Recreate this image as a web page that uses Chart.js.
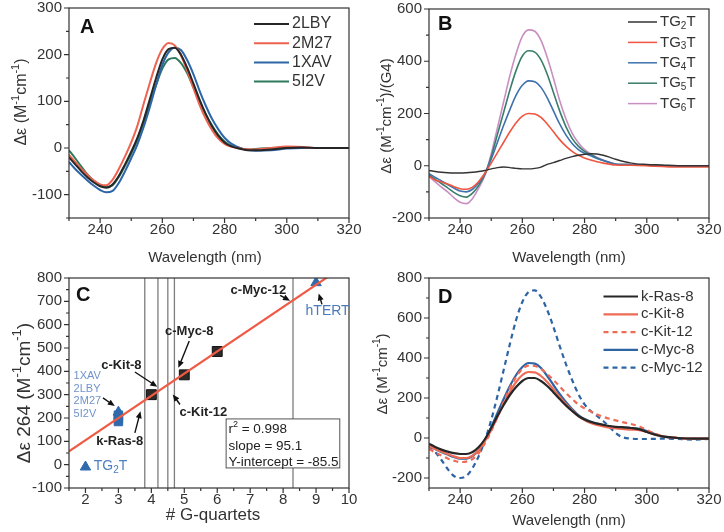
<!DOCTYPE html>
<html>
<head>
<meta charset="utf-8">
<script src="https://cdn.jsdelivr.net/npm/chart.js@4.4.1/dist/chart.umd.min.js"></script>
<style>
  html, body { margin: 0; padding: 0; background: #fff; }
  #wrap { position: relative; width: 724px; height: 532px; }
  #wrap canvas { position: absolute; }
</style>
</head>
<body>
<div id="wrap">
  <canvas id="chartA" width="362" height="266" style="left:0;top:0"></canvas>
  <canvas id="chartB" width="362" height="266" style="left:362px;top:0"></canvas>
  <canvas id="chartC" width="362" height="266" style="left:0;top:266px"></canvas>
  <canvas id="chartD" width="362" height="266" style="left:362px;top:266px"></canvas>
</div>
<script>
// ---------- data: panel A (CD spectra of known G4 structures)
const wlA = [230,232,234,236,238,240,242,244,246,248,250,252,254,256,258,260,262,264,266,268,270,272,274,276,278,280,282,284,286,288,290,295,300,305,310,315,320];
const labelsA = ['2LBY', '2M27', '1XAV', '5I2V'];
const a2LBY = [-20,-35,-50,-63,-74,-82,-85,-78,-60,-35,-8,22,60,105,150,190,212,215,200,172,138,103,72,46,26,12,4,0,-3,-5,-5,-3,0,1,0,0,0];
const a2M27 = [-15,-30,-45,-58,-70,-78,-80,-68,-45,-18,12,48,95,140,182,212,225,220,198,165,128,92,62,38,20,9,3,0,-2,-3,-3,0,3,2,0,0,0];
const a1XAV = [-30,-45,-58,-70,-81,-90,-95,-92,-75,-50,-22,8,45,88,135,178,205,215,210,188,158,122,90,62,40,22,10,3,-2,-5,-6,-5,-1,0,0,0,0];
const a5I2V = [-5,-22,-40,-57,-70,-79,-83,-80,-62,-38,-12,18,55,95,135,170,190,193,182,160,130,100,72,48,28,14,5,1,-2,-3,-2,0,1,0,0,0,0];

// ---------- data: panel B (TGnT per G4)
const wlB = wlA;
const labelsB = ['TG_{2}T', 'TG_{3}T', 'TG_{4}T', 'TG_{5}T', 'TG_{6}T'];
const bTG2T = [-18,-22,-25,-27,-28,-28,-27,-25,-22,-18,-12,-7,-5,-7,-10,-12,-12,-10,-5,5,12,20,28,35,40,44,46,45,40,33,25,10,5,3,0,0,0];
const bTG3T = [-40,-55,-62,-70,-80,-88,-90,-82,-60,-28,10,50,90,130,165,190,200,198,185,160,130,100,75,55,40,30,22,15,10,6,3,2,0,-3,-5,-5,-5];
const bTG4T = [-30,-45,-58,-72,-85,-97,-100,-90,-65,-30,25,90,155,215,270,308,325,322,300,260,210,160,118,85,62,48,38,28,20,12,6,4,2,0,0,0,0];
const bTG5T = [-35,-52,-68,-85,-102,-115,-120,-105,-75,-32,35,120,205,290,365,420,440,435,405,350,280,210,150,105,75,55,42,30,20,12,6,4,2,0,0,0,0];
const bTG6T = [-40,-62,-82,-100,-122,-140,-145,-125,-85,-35,45,145,245,345,430,495,520,515,480,415,335,250,180,125,88,62,45,32,22,14,7,4,2,0,0,0,0];

// ---------- data: panel C (Δε264 vs number of G-quartets)
const xTicksC = [2, 3, 4, 5, 6, 7, 8, 9, 10];
const yTicksC = [-100, 0, 100, 200, 300, 400, 500, 600, 700, 800];
const quartetsC = [4, 5, 6];              // black squares
const deltaC = [300, 385, 485];
const knownX = [3, 3, 3, 3];              // 1XAV, 2LBY, 2M27, 5I2V
const knownY = [225, 212, 198, 185];
const tgX = [2, 9];                       // TG2T, hTERT
const tgY = [-10, 780];
const fitX = [1.5, 10];                   // linear fit
const fitY = [57, 866];
const vLinesC = [3.8, 4.2, 4.5, 4.7, 8.3];

// ---------- data: panel D (k-Ras / c-Kit / c-Myc)
const wlD = [230,232,234,236,238,240,242,244,246,248,250,252,254,256,258,260,262,264,266,268,270,272,274,276,278,280,282,284,286,288,290,292,295,298,300,303,305,310,315,320];
const labelsD = ['k-Ras-8', 'c-Kit-8', 'c-Kit-12', 'c-Myc-8', 'c-Myc-12'];
const dKRas8 = [-28,-45,-58,-68,-76,-80,-80,-70,-45,-5,50,110,165,215,255,285,300,300,285,260,228,195,163,135,110,92,80,72,66,60,56,54,50,42,30,15,8,0,-3,-3];
const dCKit8 = [-40,-55,-68,-80,-92,-100,-100,-88,-60,-15,40,105,170,230,280,315,330,328,310,280,243,205,170,138,110,90,75,65,58,52,48,45,42,38,30,15,8,0,-3,-3];
const dCKit12 = [-55,-72,-88,-102,-113,-120,-118,-105,-75,-25,35,105,180,250,305,345,362,360,345,320,290,258,225,195,168,148,132,118,106,96,88,80,70,55,40,20,10,0,-3,-3];
const dCMyc8 = [-40,-55,-70,-83,-95,-103,-103,-90,-60,-10,55,125,195,260,315,355,375,372,350,310,265,220,180,145,115,95,82,72,64,58,54,52,50,45,35,18,8,0,-3,-3];
const dCMyc12 = [-40,-70,-110,-155,-190,-200,-190,-150,-90,-10,90,210,340,470,590,680,730,738,705,640,555,460,370,290,220,168,135,110,85,55,25,5,-3,-5,-5,-4,-3,-5,-8,-5];

const wlTicks = [240, 260, 280, 300, 320];

// ---------- drawing helpers
const FONT = "'Liberation Sans', Arial, sans-serif";
const INK = '#333333';

function parseRich(s) {
  const parts = [];
  const re = /([_^])\{([^}]*)\}/g;
  let last = 0, m;
  while ((m = re.exec(s))) {
    if (m.index > last) parts.push({ t: s.slice(last, m.index), mode: '' });
    parts.push({ t: m[2], mode: m[1] === '^' ? 'sup' : 'sub' });
    last = re.lastIndex;
  }
  if (last < s.length) parts.push({ t: s.slice(last), mode: '' });
  return parts;
}

function drawRich(ctx, s, x, y, size, opt) {
  opt = opt || {};
  const parts = parseRich(s);
  const w8 = opt.bold ? 'bold ' : '';
  const big = w8 + size + 'px ' + FONT;
  const small = w8 + Math.round(size * 0.68) + 'px ' + FONT;
  let w = 0;
  parts.forEach(p => { ctx.font = p.mode ? small : big; p.w = ctx.measureText(p.t).width; w += p.w; });
  ctx.save();
  ctx.translate(x, y);
  if (opt.rotate) ctx.rotate(opt.rotate);
  ctx.fillStyle = opt.color || INK;
  ctx.textBaseline = opt.baseline || 'middle';
  ctx.textAlign = 'left';
  let cx = opt.align === 'left' ? 0 : -w / 2;
  parts.forEach(p => {
    ctx.font = p.mode ? small : big;
    const dy = p.mode === 'sup' ? -size * 0.38 : p.mode === 'sub' ? size * 0.28 : 0;
    ctx.fillText(p.t, cx, dy);
    cx += p.w;
  });
  ctx.restore();
}

// box around the plot plus major/minor tick marks
const framePlugin = {
  id: 'frame',
  afterDatasetsDraw(chart, args, o) {
    const { ctx, chartArea: a, scales: { x, y } } = chart;
    ctx.save();
    ctx.strokeStyle = INK;
    ctx.lineWidth = 1.2;
    ctx.beginPath();
    const minor = (scale, step, fn) => {
      for (let n = Math.ceil(scale.min / step - 1e-9); n * step <= scale.max + 1e-9; n++) fn(scale.getPixelForValue(n * step));
    };
    minor(x, o.xMinor, p => { ctx.moveTo(p, a.bottom); ctx.lineTo(p, a.bottom + 3); });
    minor(y, o.yMinor, p => { ctx.moveTo(a.left, p); ctx.lineTo(a.left - 3, p); });
    x.ticks.forEach(t => { const p = x.getPixelForValue(t.value); ctx.moveTo(p, a.bottom); ctx.lineTo(p, a.bottom + 5); });
    y.ticks.forEach(t => { const p = y.getPixelForValue(t.value); ctx.moveTo(a.left, p); ctx.lineTo(a.left - 5, p); });
    ctx.stroke();
    ctx.strokeRect(a.left, a.top, a.right - a.left, a.bottom - a.top);
    ctx.restore();
  }
};

// panel letter, axis titles, legend and notes
const decoPlugin = {
  id: 'deco',
  afterDatasetsDraw(chart, args, o) {
    const ctx = chart.ctx;
    const { x, y } = chart.scales;
    if (o.box) {
      const b = o.box;
      const l = x.getPixelForValue(b.x1), r = x.getPixelForValue(b.x2);
      const t = y.getPixelForValue(b.y1), btm = y.getPixelForValue(b.y2);
      ctx.save();
      ctx.fillStyle = '#fff';
      ctx.fillRect(l, t, r - l, btm - t);
      ctx.strokeStyle = '#555';
      ctx.lineWidth = 1;
      ctx.strokeRect(l, t, r - l, btm - t);
      ctx.restore();
      b.lines.forEach(ln => drawRich(ctx, ln.text, x.getPixelForValue(b.tx), y.getPixelForValue(ln.y), 13.5, { align: 'left', color: '#222' }));
    }
    (o.arrows || []).forEach(ar => {
      const x0 = x.getPixelForValue(ar[0]), y0 = y.getPixelForValue(ar[1]);
      const x1 = x.getPixelForValue(ar[2]), y1 = y.getPixelForValue(ar[3]);
      const ang = Math.atan2(y1 - y0, x1 - x0);
      ctx.save();
      ctx.strokeStyle = '#111';
      ctx.fillStyle = '#111';
      ctx.lineWidth = 1.4;
      ctx.beginPath();
      ctx.moveTo(x0, y0);
      ctx.lineTo(x1 - 5 * Math.cos(ang), y1 - 5 * Math.sin(ang));
      ctx.stroke();
      ctx.translate(x1, y1);
      ctx.rotate(ang);
      ctx.beginPath();
      ctx.moveTo(0, 0);
      ctx.lineTo(-7, -3);
      ctx.lineTo(-7, 3);
      ctx.closePath();
      ctx.fill();
      ctx.restore();
    });
    (o.notes || []).forEach(n => {
      drawRich(ctx, n.text, x.getPixelForValue(n.x), y.getPixelForValue(n.y), n.size || 13,
        { bold: n.bold, color: n.color || '#222', align: n.align });
    });
  },
  afterDraw(chart, args, o) {
    const ctx = chart.ctx;
    ctx.save();
    ctx.fillStyle = '#111';
    ctx.font = 'bold 20px ' + FONT;
    ctx.textBaseline = 'alphabetic';
    ctx.fillText(o.letter.text, o.letter.x, o.letter.y);
    ctx.restore();
    drawRich(ctx, o.xTitle.text, o.xTitle.x, o.xTitle.y, o.xTitle.size);
    drawRich(ctx, o.yTitle.text, o.yTitle.x, o.yTitle.y, o.yTitle.size, { rotate: -Math.PI / 2 });
    if (o.legend) {
      const L = o.legend;
      chart.data.datasets.forEach((ds, i) => {
        const yy = L.y0 + i * L.dy;
        ctx.save();
        ctx.strokeStyle = ds.borderColor;
        ctx.lineWidth = L.lw;
        ctx.setLineDash(ds.borderDash || []);
        ctx.beginPath();
        ctx.moveTo(L.x1, yy);
        ctx.lineTo(L.x2, yy);
        ctx.stroke();
        ctx.restore();
        drawRich(ctx, ds.label, L.tx, yy, L.size, { align: 'left' });
      });
    }
  }
};

Chart.register(framePlugin, decoPlugin);

const line = (label, xs, ys, color, width, dash) => ({
  label,
  data: xs.map((v, i) => ({ x: v, y: ys[i] })),
  borderColor: color,
  borderWidth: width,
  borderDash: dash || [],
  pointRadius: 0,
  cubicInterpolationMode: 'monotone',
  fill: false
});

function baseOptions(box, xr, yr, frame, deco) {
  const tickFont = { family: FONT, size: 15 };
  return {
    responsive: false,
    animation: false,
    events: [],
    layout: { padding: { left: 0, right: box.r, top: box.t, bottom: 0 } },
    plugins: { legend: { display: false }, tooltip: { enabled: false }, frame, deco },
    scales: {
      x: {
        type: 'linear', min: xr.min, max: xr.max,
        grid: { display: false, tickLength: 0 }, border: { display: false },
        ticks: { font: tickFont, color: INK, padding: 3, maxRotation: 0, autoSkip: false },
        afterBuildTicks: s => { s.ticks = xr.ticks.map(v => ({ value: v })); },
        afterFit: s => { s.height = box.h; s.paddingLeft = 0; s.paddingRight = 0; }
      },
      y: {
        type: 'linear', min: yr.min, max: yr.max,
        grid: { display: false, tickLength: 0 }, border: { display: false },
        ticks: { font: tickFont, color: INK, padding: 7, autoSkip: false },
        afterBuildTicks: s => { s.ticks = yr.ticks.map(v => ({ value: v })); },
        afterFit: s => { s.width = box.w; s.paddingTop = 0; s.paddingBottom = 0; }
      }
    }
  };
}

// ---------- panel A
new Chart(document.getElementById('chartA'), {
  type: 'line',
  data: {
    datasets: [
      line(labelsA[0], wlA, a2LBY, '#262626', 2),
      line(labelsA[1], wlA, a2M27, '#ee6350', 2),
      line(labelsA[2], wlA, a1XAV, '#2c66a8', 2),
      line(labelsA[3], wlA, a5I2V, '#2f7a5f', 2)
    ]
  },
  options: baseOptions(
    { w: 69, r: 13, t: 8, h: 48 },
    { min: 230, max: 320, ticks: wlTicks },
    { min: -150, max: 300, ticks: [-100, 0, 100, 200, 300] },
    { xMinor: 10, yMinor: 50 },
    {
      letter: { text: 'A', x: 80, y: 33 },
      xTitle: { text: 'Wavelength (nm)', x: 205, y: 258, size: 15 },
      yTitle: { text: 'Δε (M^{-1}cm^{-1})', x: 22, y: 102, size: 16 },
      legend: { x1: 254, x2: 289, tx: 292, y0: 24, dy: 19.2, lw: 2, size: 16 }
    }
  )
});

// ---------- panel B
new Chart(document.getElementById('chartB'), {
  type: 'line',
  data: {
    datasets: [
      line(labelsB[0], wlB, bTG2T, '#333333', 1.4),
      line(labelsB[1], wlB, bTG3T, '#f0553f', 1.6),
      line(labelsB[2], wlB, bTG4T, '#3f72ad', 1.6),
      line(labelsB[3], wlB, bTG5T, '#3a7d6a', 1.6),
      line(labelsB[4], wlB, bTG6T, '#c88fc3', 1.6)
    ]
  },
  options: baseOptions(
    { w: 67, r: 15, t: 9, h: 48 },
    { min: 230, max: 320, ticks: wlTicks },
    { min: -200, max: 600, ticks: [-200, 0, 200, 400, 600] },
    { xMinor: 10, yMinor: 100 },
    {
      letter: { text: 'B', x: 76, y: 30 },
      xTitle: { text: 'Wavelength (nm)', x: 207, y: 258, size: 15 },
      yTitle: { text: 'Δε (M^{-1}cm^{-1})/(G4)', x: 25, y: 116, size: 15 },
      legend: { x1: 266, x2: 295, tx: 298, y0: 22, dy: 20.4, lw: 1.5, size: 15 }
    }
  )
});

// ---------- panel C
const blue = '#2f6aad';
new Chart(document.getElementById('chartC'), {
  type: 'scatter',
  data: {
    datasets: [
      { type: 'line', data: fitX.map((v, i) => ({ x: v, y: fitY[i] })), borderColor: '#ef5a45', borderWidth: 2.2, pointRadius: 0, order: 0 },
      { data: quartetsC.map((v, i) => ({ x: v, y: deltaC[i] })), pointStyle: 'rect', radius: 7, backgroundColor: '#2e2a27', borderColor: '#111', borderWidth: 1, order: 1 },
      { data: knownX.map((v, i) => ({ x: v, y: knownY[i] })), pointStyle: ['triangle', 'rect', 'rect', 'rect'], radius: 6, backgroundColor: blue, borderColor: blue, borderWidth: 1, order: 1 },
      { data: tgX.map((v, i) => ({ x: v, y: tgY[i] })), pointStyle: 'triangle', radius: 6, backgroundColor: blue, borderColor: blue, borderWidth: 1, order: 1 },
      ...vLinesC.map(v => ({ type: 'line', data: [{ x: v, y: -100 }, { x: v, y: 800 }], borderColor: '#7d7d7d', borderWidth: 1.3, pointRadius: 0, order: 2 }))
    ]
  },
  options: baseOptions(
    { w: 69, r: 13, t: 12, h: 44 },
    { min: 1.5, max: 10, ticks: xTicksC },
    { min: -100, max: 800, ticks: yTicksC },
    { xMinor: 0.5, yMinor: 50 },
    {
      letter: { text: 'C', x: 76, y: 35 },
      xTitle: { text: '# G-quartets', x: 213, y: 249, size: 17 },
      yTitle: { text: 'Δε 264 (M^{-1}cm^{-1})', x: 25, y: 127, size: 19 },
      notes: [
        { text: 'c-Myc-12', x: 7.25, y: 748, bold: true },
        { text: 'hTERT', x: 9.35, y: 658, color: '#4a7ab8', size: 14 },
        { text: 'c-Myc-8', x: 5.15, y: 573, bold: true },
        { text: 'c-Kit-8', x: 3.09, y: 425, bold: true },
        { text: 'c-Kit-12', x: 5.58, y: 222, bold: true },
        { text: 'k-Ras-8', x: 3.04, y: 100, bold: true },
        { text: 'TG_{2}T', x: 2.25, y: -7, color: '#4f80c0', align: 'left', size: 14 },
        { text: '1XAV', x: 1.64, y: 379, color: '#6f93cc', align: 'left', size: 11 },
        { text: '2LBY', x: 1.64, y: 325, color: '#6f93cc', align: 'left', size: 11 },
        { text: '2M27', x: 1.64, y: 272, color: '#6f93cc', align: 'left', size: 11 },
        { text: '5I2V', x: 1.64, y: 219, color: '#6f93cc', align: 'left', size: 11 }
      ],
      arrows: [
        [7.91, 726, 8.21, 702], [9.18, 687, 9.08, 734], [5.15, 530, 4.82, 415],
        [3.50, 397, 4.18, 334], [4.87, 258, 4.65, 301], [3.50, 136, 3.67, 229],
        [2.53, 286, 2.89, 251]
      ],
      box: {
        x1: 6.27, x2: 9.72, y1: 196, y2: -14, tx: 6.34,
        lines: [
          { text: 'r^{2} = 0.998', y: 151 },
          { text: 'slope = 95.1', y: 78 },
          { text: 'Y-intercept = -85.5', y: 10 }
        ]
      }
    }
  )
});

// ---------- panel D
new Chart(document.getElementById('chartD'), {
  type: 'line',
  data: {
    datasets: [
      line(labelsD[0], wlD, dKRas8, '#262626', 2.2),
      line(labelsD[1], wlD, dCKit8, '#ee6b55', 2.2),
      line(labelsD[2], wlD, dCKit12, '#ee6b55', 2.2, [5, 4]),
      line(labelsD[3], wlD, dCMyc8, '#2d64a4', 2.2),
      line(labelsD[4], wlD, dCMyc12, '#2d64a4', 2.2, [5, 4])
    ]
  },
  options: baseOptions(
    { w: 67, r: 15, t: 12, h: 44 },
    { min: 230, max: 320, ticks: wlTicks },
    { min: -250, max: 800, ticks: [-200, 0, 200, 400, 600, 800] },
    { xMinor: 10, yMinor: 100 },
    {
      letter: { text: 'D', x: 76, y: 37 },
      xTitle: { text: 'Wavelength (nm)', x: 207, y: 255, size: 15 },
      yTitle: { text: 'Δε (M^{-1}cm^{-1})', x: 21, y: 108, size: 15 },
      legend: { x1: 241.5, x2: 276, tx: 279, y0: 30.5, dy: 17.8, lw: 2.2, size: 15 }
    }
  )
});
</script>
</body>
</html>
